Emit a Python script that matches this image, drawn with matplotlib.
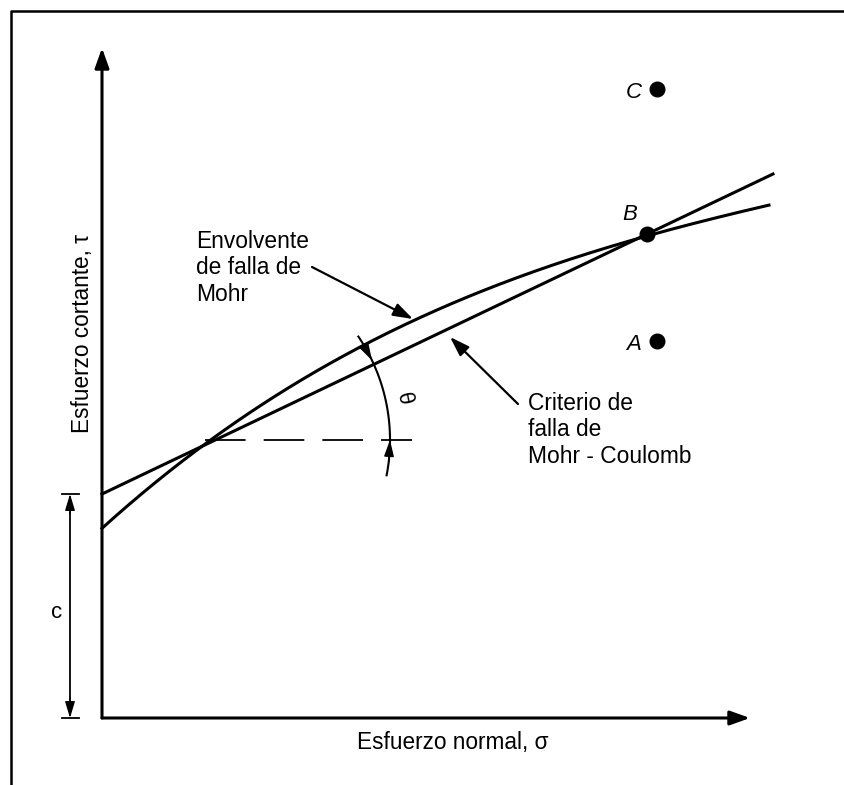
import numpy as np
import matplotlib.pyplot as plt

plt.rcParams['font.family'] = ['Liberation Sans', 'DejaVu Sans']

# diagram coordinates: origin at the axes corner, 1 unit ~ 1 px
axis_x_end = 648
axis_y_end = 670

# Mohr-Coulomb straight line (intercept c, end point)
coulomb_x = [0, 671]
coulomb_y = [224, 544]

# Mohr failure envelope
env_x = [0, 103, 261, 545, 667]
env_y = [188, 278, 369, 484, 512]

# stress states
pts_name = ['A', 'B', 'C']
pts_x = [555, 545, 555]
pts_y = [377, 484, 629]

cross_pt = (103, 278)
cohesion = 224

fig = plt.figure(figsize=(8.44, 7.85), dpi=100)
ax = fig.add_axes([0, 0, 1, 1])
ax.set_xlim(-102, 742)
ax.set_ylim(-67, 718)
ax.axis('off')

# frame (left and top only)
ax.plot([-91, -91, 742], [-67, 707, 707], color='black', lw=1.8, solid_capstyle='butt')


def arrow(p0, p1, lw=2.0, hl=1.2, hw=0.43, scale=10):
    ax.annotate('', xy=p1, xytext=p0,
                arrowprops=dict(arrowstyle=f'-|>,head_length={hl},head_width={hw}',
                                lw=lw, color='black', shrinkA=0, shrinkB=0,
                                mutation_scale=scale))


# axes with arrows
arrow((0, 0), (0, axis_y_end), lw=2.2)
arrow((0, 0), (axis_x_end, 0), lw=2.2)

# straight line and curved envelope
ax.plot(coulomb_x, coulomb_y, color='black', lw=2.2)
coef = np.polyfit(env_x, env_y, 3)
xs = np.linspace(env_x[0], env_x[-1], 300)
ax.plot(xs, np.polyval(coef, xs), color='black', lw=2.2)

# points
ax.plot(pts_x, pts_y, 'o', color='black', markersize=10.5)
for name, x, y in zip(pts_name, pts_x, pts_y):
    dx = -17 if name == 'B' else -23
    dy = 19 if name == 'B' else -3
    ax.text(x + dx, y + dy, name, fontsize=16, style='italic', ha='center', va='center')

# horizontal dashed line and angle arc
ax.plot([cross_pt[0], 310], [cross_pt[1], cross_pt[1]], color='black', lw=1.3,
        linestyle=(0, (22.5, 10)))
r = 185
t = np.radians(np.linspace(-11, 34, 100))
ax.plot(cross_pt[0] + r * np.cos(t), cross_pt[1] + r * np.sin(t), color='black', lw=1.5)
phi = np.degrees(np.arctan((coulomb_y[1] - coulomb_y[0]) / (coulomb_x[1] - coulomb_x[0])))
for a_from, a_to in [(-7, 0), (phi + 6, phi)]:
    p0 = (cross_pt[0] + r * np.cos(np.radians(a_from)), cross_pt[1] + r * np.sin(np.radians(a_from)))
    p1 = (cross_pt[0] + r * np.cos(np.radians(a_to)), cross_pt[1] + r * np.sin(np.radians(a_to)))
    arrow(p0, p1, lw=1.0, hl=1.0, hw=0.3)
ax.text(302, 319, 'θ', fontsize=16, rotation=-78, ha='center', va='center')

# cohesion dimension
ax.plot([-32, -32], [6, cohesion - 6], color='black', lw=1.3)
ax.plot([-40, -23], [0, 0], color='black', lw=1.3)
ax.plot([-40, -23], [cohesion, cohesion], color='black', lw=1.3)
arrow((-32, 20), (-32, 0), lw=1.0, hl=1.0, hw=0.3)
arrow((-32, cohesion - 20), (-32, cohesion), lw=1.0, hl=1.0, hw=0.3)
ax.text(-45, 105, 'c', fontsize=16, ha='center', va='center')

# callouts
ax.text(94, 450, 'Envolvente\nde falla de\nMohr', fontsize=16.4, ha='left', va='center',
        linespacing=1.22)
arrow((210, 451), (311, 399), lw=1.6, hl=1.2, hw=0.4)
ax.text(426, 288, 'Criterio de\nfalla de\nMohr - Coulomb', fontsize=16.4, ha='left',
        va='center', linespacing=1.22)
arrow((416, 314), (348, 381), lw=1.6, hl=1.2, hw=0.4)

# axis titles
ax.text(351, -24, 'Esfuerzo normal, σ', fontsize=16.3, ha='center', va='center')
ax.text(-20, 385, 'Esfuerzo cortante, τ', fontsize=16.3, ha='center', va='center',
        rotation=90)

fig.savefig('out.png', dpi=100)
